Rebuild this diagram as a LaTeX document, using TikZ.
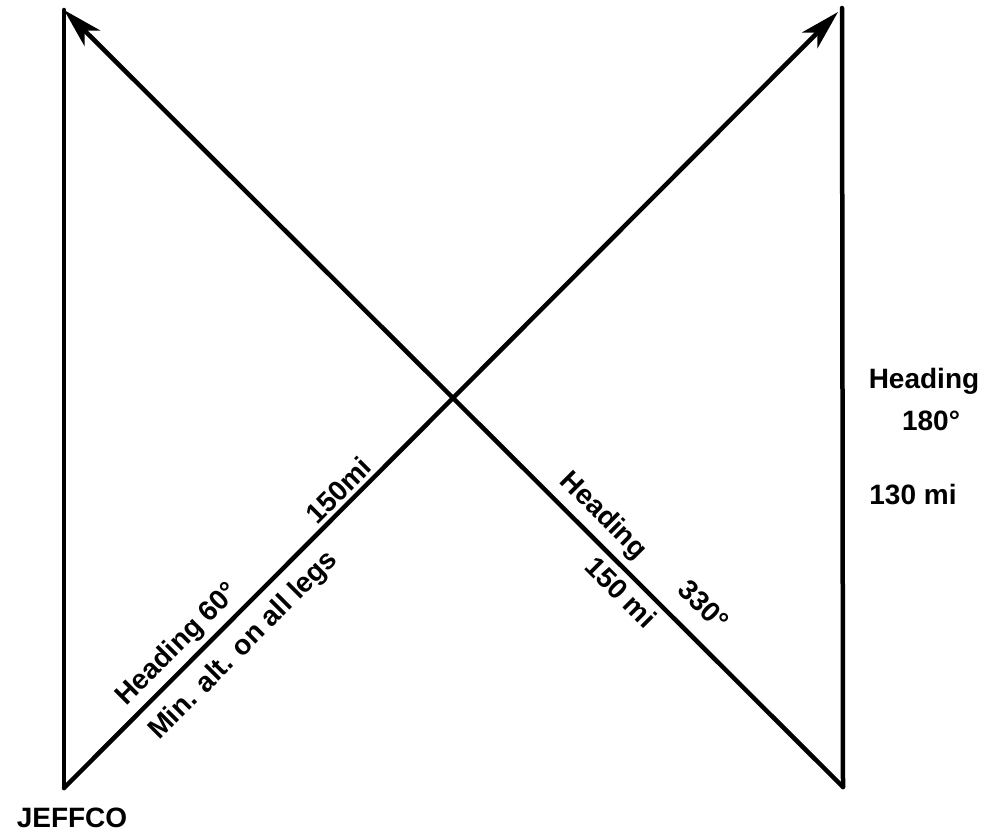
\documentclass[tikz,border=0pt]{standalone}
\usepackage{fontspec}
\setmainfont{Liberation Sans}
\usetikzlibrary{arrows.meta}
\tikzset{
  leg/.style={line width=4.5pt, draw=black, line cap=round, line join=round},
  hdg/.style={-{Stealth[length=40pt, width=22pt, inset=11pt]}},
  lbl/.style={font=\bfseries\fontsize{28}{30}\selectfont, inner sep=0pt},
}
\begin{document}
\begin{tikzpicture}[x=1pt, y=-1pt]
\useasboundingbox (0,0) rectangle (993,840);

% ---------- corners of the route ----------
\coordinate (jeffco) at (64,788);
\coordinate (nw) at (64,10);
\coordinate (ne) at (842,8);
\coordinate (se) at (843,787);
\coordinate (netip) at (838,12);

% ---------- legs ----------
\draw[leg, hdg] (jeffco) -- (netip);
\draw[leg] (ne) -- (se);
\draw[leg, hdg] (se) -- (nw);
\draw[leg] (nw) -- (jeffco);

% ---------- leg labels ----------
\node[lbl, rotate=45] (h60) at (178,645) {Heading 60°};
\node[lbl, rotate=45] (d150a) at (338,490) {150mi};
\node[lbl, rotate=45] (minalt) at (244,646) {Min. alt. on all legs};
\node[lbl, rotate=-45] (h330) at (603,516) {Heading};
\node[lbl, rotate=-45] (deg330) at (704,605) {330°};
\node[lbl, rotate=-45] (d150b) at (621,592) {150 mi};
\node[lbl] (h180) at (924,381) {Heading};
\node[lbl] (deg180) at (931,421) {180°};
\node[lbl] (d130) at (913,495) {130 mi};
\node[lbl] (base) at (72,818) {JEFFCO};

\end{tikzpicture}
\end{document}
